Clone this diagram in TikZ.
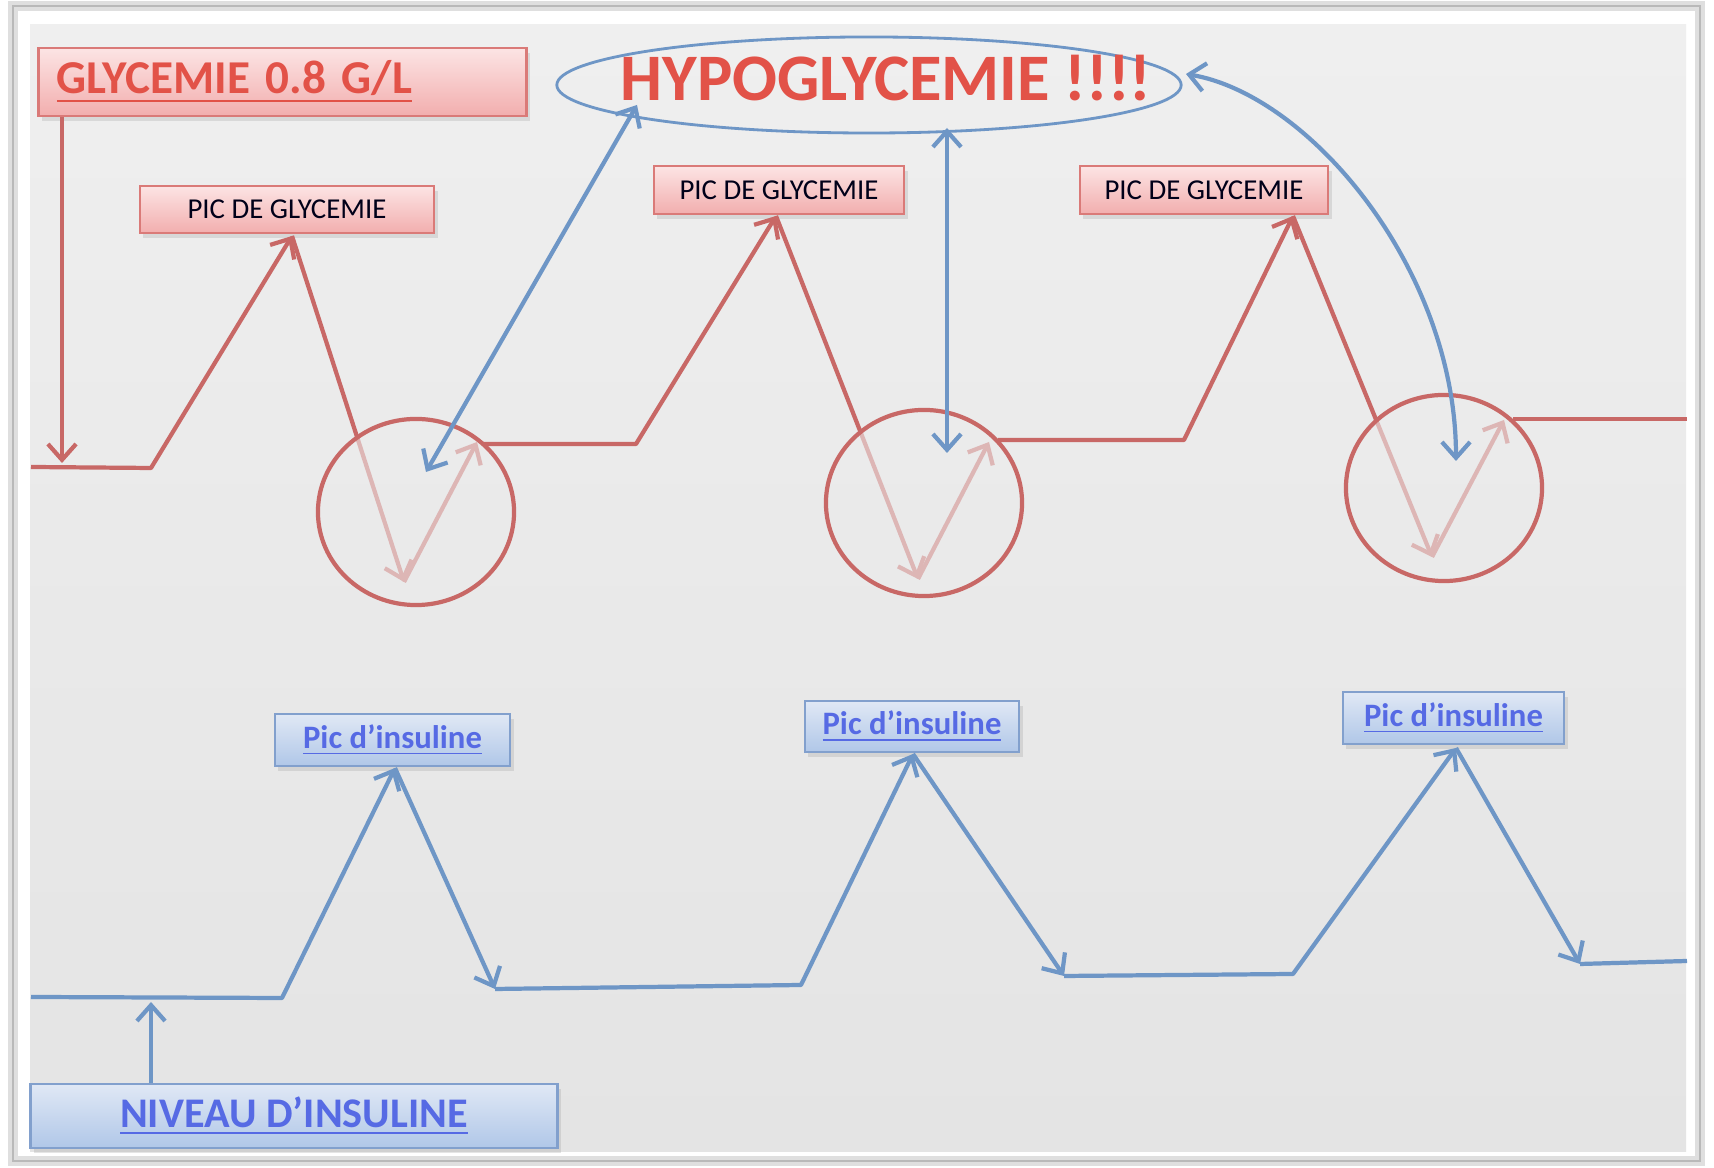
\documentclass[tikz,border=0pt]{standalone}
\usepackage{fontspec}
\setmainfont{Carlito}
\usetikzlibrary{arrows.meta,shapes.geometric,shadows}

\definecolor{glyred}{RGB}{200,104,102}
\definecolor{hyred}{RGB}{226,82,72}
\definecolor{boxred}{RGB}{218,122,120}
\definecolor{redtop}{RGB}{252,228,228}
\definecolor{redbot}{RGB}{242,174,174}
\definecolor{insblue}{RGB}{110,150,198}
\definecolor{instext}{RGB}{86,106,228}
\definecolor{boxblue}{RGB}{130,160,205}
\definecolor{bluetop}{RGB}{224,232,245}
\definecolor{bluebot}{RGB}{176,199,232}
\definecolor{panel}{RGB}{235,235,235}

\tikzset{
  gly line/.style={glyred, line width=1.2pt, line join=round},
  ins line/.style={insblue, line width=1.2pt, line join=round},
  gly arrow/.style={-{Straight Barb[length=4.5pt,width=8pt]}},
  both arrow/.style={{Straight Barb[length=4.5pt,width=8pt]}-{Straight Barb[length=4.5pt,width=8pt]}},
  red box/.style={draw=boxred, line width=0.8pt, top color=redtop, bottom color=redbot,
    inner sep=0pt, drop shadow={opacity=0.2,shadow xshift=1pt,shadow yshift=-1.5pt}},
  blue box/.style={draw=boxblue, line width=0.8pt, top color=bluetop, bottom color=bluebot,
    inner sep=0pt, drop shadow={opacity=0.2,shadow xshift=1pt,shadow yshift=-1.5pt}},
  pic gly/.style={red box, minimum height=0.48cm, text=black!90!blue,
    font=\fontsize{8.2pt}{10pt}\selectfont},
  pic ins/.style={blue box, minimum height=0.52cm, text=instext,
    font=\fontsize{9.3pt}{11pt}\selectfont\bfseries},
  dip/.style={ellipse, draw=glyred, line width=1.2pt, fill=panel, fill opacity=0.6,
    minimum width=1.96cm, minimum height=1.86cm, inner sep=0pt}
}

\begin{document}
\begin{tikzpicture}[x=0.01cm, y=-0.01cm]
\useasboundingbox (0,0) rectangle (1714,1168);
% cadre
\fill[white] (0,0) rectangle (1714,1168);
\draw[gray!25, line width=3pt] (13,6) rectangle (1700,1161);
\draw[gray!55, line width=0.8pt] (13,6) rectangle (1700,1161);
\shade[top color=panel!80!white, bottom color=panel!97!black] (30,25) rectangle (1686,1152);

% points de la glycemie
\coordinate (g0) at (62,463);
\coordinate (ga) at (31,467);
\coordinate (gb) at (151,468);
\coordinate (gp1) at (292,236);
\coordinate (gt1) at (404,582);
\coordinate (gu1) at (477,442);
\coordinate (gs1) at (484,444);
\coordinate (gc) at (636,444);
\coordinate (gp2) at (776,216);
\coordinate (gt2) at (918,579);
\coordinate (gu2) at (989,442);
\coordinate (gs2) at (998,440);
\coordinate (gd) at (1184,440);
\coordinate (gp3) at (1293,216);
\coordinate (gt3) at (1432,557);
\coordinate (gu3) at (1504,420);
\coordinate (gs3) at (1513,419);
\coordinate (ge) at (1687,419);

% points de l'insuline
\coordinate (i0) at (151,1002);
\coordinate (ia) at (31,997);
\coordinate (ib) at (282,998);
\coordinate (ip1) at (395,768);
\coordinate (it1) at (495,989);
\coordinate (ic) at (801,985);
\coordinate (ip2) at (913,754);
\coordinate (it2) at (1064,976);
\coordinate (id) at (1293,974);
\coordinate (ip3) at (1456,748);
\coordinate (it3) at (1580,964);
\coordinate (ie) at (1687,961);

% etiquettes
\node[red box, minimum width=4.87cm, minimum height=0.68cm, inner xsep=0.18cm, text width=4.51cm, align=left,
  text=hyred, font=\fontsize{13.4pt}{16pt}\selectfont\bfseries] (glybox) at (282.5,82) {\underline{GLYCEMIE 0.8 G/L}};
\node[pic gly, minimum width=2.94cm, minimum height=0.47cm] (pg1) at (287,209.5) {PIC DE GLYCEMIE};
\node[pic gly, minimum width=2.50cm] (pg2) at (779,190) {PIC DE GLYCEMIE};
\node[pic gly, minimum width=2.48cm] (pg3) at (1204,190) {PIC DE GLYCEMIE};
\node[pic ins, minimum width=2.35cm] (pi1) at (392.5,740) {\underline{Pic d’insuline}};
\node[pic ins, minimum width=2.14cm, minimum height=0.51cm] (pi2) at (912,726.5) {\underline{Pic d’insuline}};
\node[pic ins, minimum width=2.21cm] (pi3) at (1453.5,718) {\underline{Pic d’insuline}};
\node[blue box, minimum width=5.26cm, minimum height=0.64cm, text=instext,
  font=\fontsize{12pt}{14pt}\selectfont\bfseries] (niveau) at (294,1116) {\underline{NIVEAU D’INSULINE}};

% courbe de la glycemie
\draw[gly line, gly arrow] (glybox.south -| g0) -- (g0);
\draw[gly line, gly arrow] (ga) -- (gb) -- (gp1);
\draw[gly line, gly arrow] (gp1) -- (gt1);
\draw[gly line, gly arrow] (gt1) -- (gu1);
\draw[gly line, gly arrow] (gs1) -- (gc) -- (gp2);
\draw[gly line, gly arrow] (gp2) -- (gt2);
\draw[gly line, gly arrow] (gt2) -- (gu2);
\draw[gly line, gly arrow] (gs2) -- (gd) -- (gp3);
\draw[gly line, gly arrow] (gp3) -- (gt3);
\draw[gly line, gly arrow] (gt3) -- (gu3);
\draw[gly line] (gs3) -- (ge);
\node[dip] (c1) at (416,512) {};
\node[dip] (c2) at (924,503) {};
\node[dip] (c3) at (1444,488) {};

% courbe de l'insuline
\draw[ins line, gly arrow] (niveau.north -| i0) -- (i0);
\draw[ins line, gly arrow] (ia) -- (ib) -- (ip1);
\draw[ins line, gly arrow] (ip1) -- (it1);
\draw[ins line, gly arrow] (it1) -- (ic) -- (ip2);
\draw[ins line, gly arrow] (ip2) -- (it2);
\draw[ins line, gly arrow] (it2) -- (id) -- (ip3);
\draw[ins line, gly arrow] (ip3) -- (it3);
\draw[ins line] (it3) -- (ie);

% hypoglycemie
\node[ellipse, draw=insblue, line width=0.8pt, minimum width=6.24cm, minimum height=0.96cm, inner sep=0pt,
  text=hyred, font=\fontsize{18.9pt}{22pt}\selectfont\bfseries] (hypo) at (869,85)
  {\makebox[0pt]{\hspace*{0.34cm}\raisebox{-0.16cm}[0pt][0pt]{HYPOGLYCEMIE !!!!}}};
\coordinate (h1) at (637,105);
\coordinate (h2) at (947,128);
\coordinate (h3) at (1186,74);
\coordinate (d1) at (426,472);
\coordinate (d2) at (947,453);
\coordinate (d3) at (1456,461);
\draw[ins line, both arrow] (h1) -- (d1);
\draw[ins line, both arrow] (h2) -- (d2);
\draw[ins line, both arrow] (h3) .. controls (1310,95) and (1456,270) .. (d3);
\end{tikzpicture}
\end{document}
